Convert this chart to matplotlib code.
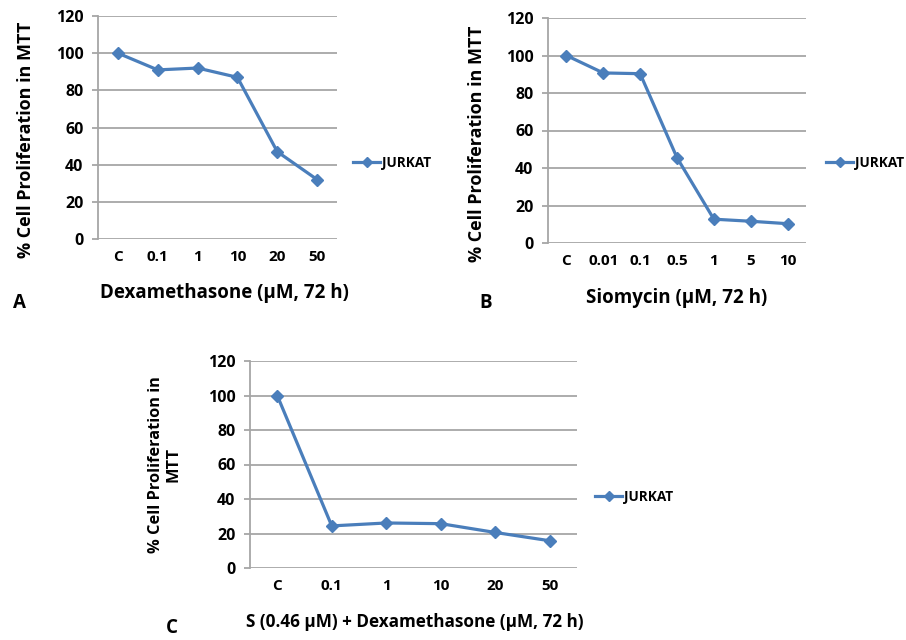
import matplotlib
matplotlib.use("Agg")
import matplotlib.pyplot as plt

plt.rcParams["font.family"] = ["Open Sans", "DejaVu Sans"]
plt.rcParams["font.weight"] = "bold"

# ── data ─────────────────────────────────────────────────────────────────────
dex_labels = ["C", "0.1", "1", "10", "20", "50"]
dex_values = [100, 91, 92, 87, 47, 32]

sio_labels = ["C", "0.01", "0.1", "0.5", "1", "5", "10"]
sio_values = [100, 90.7, 90.3, 45.5, 12.7, 11.6, 10.3]

combo_labels = ["C", "0.1", "1", "10", "20", "50"]
combo_values = [100, 24.4, 26.1, 25.7, 20.6, 15.8]

yticks = [0, 20, 40, 60, 80, 100, 120]

LINE = "#4a7ebb"
GRID = "#a6a6a6"
W, H = 906, 640

fig = plt.figure(figsize=(W / 100, H / 100), dpi=100)
fig.patch.set_facecolor("white")


def px_axes(left, top, right, bottom):
    return fig.add_axes([left / W, 1 - bottom / H, (right - left) / W, (bottom - top) / H])


def panel(ax, labels, values, ylabel, ylab_xy, xlabel, xlab_xy, leg_xy, letter, letter_px,
          label_size=13.5):
    x = list(range(len(labels)))
    ax.plot(x, values, color=LINE, lw=2.3, marker="D", ms=6, label="JURKAT")
    ax.set_xlim(-0.5, len(labels) - 0.5)
    ax.set_ylim(0, 120)
    ax.set_yticks(yticks)
    ax.set_xticks(x)
    ax.set_xticklabels(labels)
    ax.grid(axis="y", color=GRID, lw=1.3)
    ax.set_axisbelow(True)
    for s in ["top", "right", "bottom"]:
        ax.spines[s].set_visible(False)
    ax.spines["left"].set_color(GRID)
    ax.spines["left"].set_linewidth(1.3)
    ax.tick_params(axis="y", length=4.5, width=1.3, color=GRID, pad=6, labelsize=11.5)
    ax.tick_params(axis="x", length=0, pad=8, labelsize=11)
    for t in ax.get_xticklabels() + ax.get_yticklabels():
        t.set_fontweight("bold")
    ax.set_ylabel(ylabel, fontsize=label_size - 0.5, fontweight="bold", linespacing=1.05)
    ax.yaxis.set_label_coords(*ylab_xy)
    ax.text(xlab_xy[0], xlab_xy[1], xlabel, transform=ax.transAxes, ha="center",
            va="center", fontsize=label_size, fontweight="bold")
    leg = ax.legend(loc="center left", bbox_to_anchor=leg_xy, frameon=False,
                    borderpad=0, borderaxespad=0, handlelength=2.0,
                    handletextpad=0.1, fontsize=9.8, markerscale=0.9)
    for t in leg.get_texts():
        t.set_fontweight("bold")
    fig.text(letter_px[0] / W, 1 - letter_px[1] / H, letter, ha="center",
             va="center", fontsize=13.5, fontweight="bold")


axA = px_axes(98, 16, 337, 239)
panel(axA, dex_labels, dex_values, "% Cell Proliferation in MTT", (-0.264, 0.444),
      "Dexamethasone (\u00b5M, 72 h)", (0.531, -0.242), (1.067, 0.341), "A", (19, 303))

axB = px_axes(548, 18, 806, 243)
panel(axB, sio_labels, sio_values, "% Cell Proliferation in MTT", (-0.240, 0.44),
      "Siomycin (\u00b5M, 72 h)", (0.5, -0.244), (1.078, 0.356), "B", (486, 303))

axC = px_axes(250, 361, 577, 568)
panel(axC, combo_labels, combo_values, "% Cell Proliferation in\nMTT", (-0.211, 0.498),
      "S (0.46 \u00b5M) + Dexamethasone (\u00b5M, 72 h)", (0.505, -0.261),
      (1.055, 0.343), "C", (172, 628), label_size=12.3)

fig.savefig("out.png", dpi=100, facecolor="white")
